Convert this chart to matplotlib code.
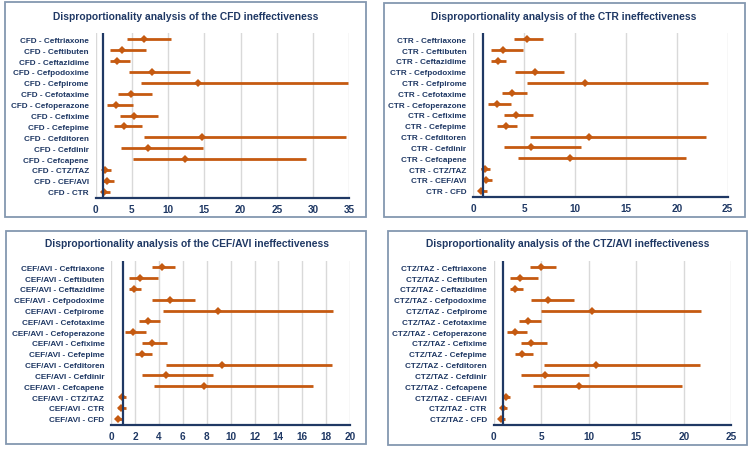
import matplotlib
matplotlib.use("Agg")
import matplotlib.pyplot as plt
from matplotlib.patches import Rectangle

plt.rcParams['font.family'] = ['Liberation Sans', 'DejaVu Sans']

drugs = ["Ceftriaxone", "Ceftibuten", "Ceftazidime", "Cefpodoxime", "Cefpirome",
         "Cefotaxime", "Cefoperazone", "Cefixime", "Cefepime", "Cefditoren",
         "Cefdinir", "Cefcapene"]

# Panel 1: CFD
cfd_labels = [f"CFD - {d}" for d in drugs] + ["CFD - CTZ/TAZ", "CFD - CEF/AVI", "CFD - CTR"]
cfd_ror = [6.67, 3.68, 2.99, 7.77, 14.17, 4.88, 2.85, 5.34, 3.96, 14.63, 7.22, 12.28, 1.29, 1.52, 1.20]
cfd_lo = [4.37, 2.02, 1.93, 4.65, 6.30, 3.08, 1.52, 3.36, 2.58, 6.67, 3.54, 5.20, 0.83, 1.06, 0.83]
cfd_hi = [10.35, 6.90, 4.74, 12.97, 34.8, 7.77, 5.20, 8.60, 6.35, 34.6, 14.8, 29.0, 2.16, 2.48, 2.02]

# Panel 2: CTR
ctr_labels = [f"CTR - {d}" for d in drugs] + ["CTR - CTZ/TAZ", "CTR - CEF/AVI", "CTR - CFD"]
ctr_ror = [5.24, 2.92, 2.39, 6.03, 10.94, 3.83, 2.29, 4.19, 3.18, 11.34, 5.64, 9.50, 1.11, 1.28, 0.79]
ctr_lo = [4.03, 1.77, 1.77, 4.10, 5.28, 2.85, 1.47, 3.05, 2.36, 5.60, 3.05, 4.36, 0.79, 0.92, 0.59]
ctr_hi = [6.81, 4.88, 3.18, 8.88, 23.03, 5.24, 3.67, 5.83, 4.29, 22.87, 10.55, 20.90, 1.60, 1.80, 1.31]

# Panel 3: CEF/AVI
cef_labels = [f"CEF/AVI - {d}" for d in drugs] + ["CEF/AVI - CTZ/TAZ", "CEF/AVI - CTR", "CEF/AVI - CFD"]
cef_ror = [4.27, 2.37, 1.93, 4.92, 8.97, 3.10, 1.84, 3.44, 2.54, 9.25, 4.58, 7.77, 0.87, 0.81, 0.59]
cef_lo = [3.38, 1.45, 1.51, 3.44, 4.30, 2.35, 1.17, 2.54, 1.96, 4.61, 2.54, 3.58, 0.67, 0.59, 0.42]
cef_hi = [5.36, 3.88, 2.51, 7.04, 18.6, 4.10, 2.93, 4.64, 3.38, 18.46, 8.49, 16.87, 1.26, 1.20, 0.95]

# Panel 4: CTZ/TAZ
ctz_labels = [f"CTZ/TAZ - {d}" for d in drugs] + ["CTZ/TAZ - CEF/AVI", "CTZ/TAZ - CTR", "CTZ/TAZ - CFD"]
ctz_ror = [4.94, 2.77, 2.28, 5.72, 10.38, 3.65, 2.21, 3.96, 2.98, 10.73, 5.40, 9.01, 1.26, 0.98, 0.77]
ctz_lo = [3.79, 1.72, 1.72, 3.89, 4.98, 2.70, 1.37, 2.91, 2.24, 5.33, 2.91, 4.14, 0.95, 0.77, 0.60]
ctz_hi = [6.56, 4.66, 3.09, 8.45, 21.81, 4.98, 3.51, 5.61, 4.10, 21.70, 10.03, 19.81, 1.72, 1.44, 1.19]

titles = ["Disproportionality analysis of the CFD ineffectiveness",
          "Disproportionality analysis of the CTR ineffectiveness",
          "Disproportionality analysis of the CEF/AVI ineffectiveness",
          "Disproportionality analysis of the CTZ/AVI ineffectiveness"]

W, H = 753, 452
NAVY = "#1F3864"
ORANGE = "#C55A11"
BORDER = "#8497B0"

fig = plt.figure(figsize=(W / 100, H / 100), dpi=100)
fig.patch.set_facecolor("white")

def fr(l, t, r, b):
    return [l / W, 1 - b / H, (r - l) / W, (b - t) / H]

panels = [
    dict(labels=cfd_labels, ror=cfd_ror, lo=cfd_lo, hi=cfd_hi, xmax=35, step=5,
         ax=(95.7, 34, 349.3, 199), box=(5, 3, 366, 218), title=titles[0], tpos=(185.5, 17)),
    dict(labels=ctr_labels, ror=ctr_ror, lo=ctr_lo, hi=ctr_hi, xmax=25, step=5,
         ax=(473.3, 34, 727.7, 198), box=(384, 4, 745, 218), title=titles[1], tpos=(564, 17)),
    dict(labels=cef_labels, ror=cef_ror, lo=cef_lo, hi=cef_hi, xmax=20, step=2,
         ax=(111.3, 262, 350, 426), box=(6, 232, 366, 445), title=titles[2], tpos=(186.7, 244)),
    dict(labels=ctz_labels, ror=ctz_ror, lo=ctz_lo, hi=ctz_hi, xmax=25, step=5,
         ax=(493.7, 262, 731.3, 426), box=(388, 232, 747, 446), title=titles[3], tpos=(567.7, 244)),
]

for p in panels:
    l, t, r, b = p["box"]
    fig.patches.append(Rectangle((l / W, 1 - b / H), (r - l) / W, (b - t) / H,
                                 transform=fig.transFigure, fill=False,
                                 edgecolor=BORDER, linewidth=1.3, zorder=0))
    fig.text(p["tpos"][0] / W, 1 - p["tpos"][1] / H, p["title"], ha="center", va="center",
             fontsize=7.4, fontweight="bold", color=NAVY)

    ax = fig.add_axes(fr(*p["ax"]))
    n = len(p["labels"])
    ys = list(range(n))
    for y, v, lo, hi in zip(ys, p["ror"], p["lo"], p["hi"]):
        ax.plot([lo, hi], [y, y], color=ORANGE, lw=2.0, solid_capstyle="butt", zorder=3)
    ax.plot(p["ror"], ys, linestyle="none", marker="D", markersize=4.4,
            color=ORANGE, markeredgewidth=0, zorder=4)
    ax.axvline(1, color=NAVY, lw=1.6, zorder=5)
    ax.set_xlim(0, p["xmax"])
    ax.set_ylim(n - 1 + 0.58, -0.58)
    ax.set_xticks(range(0, p["xmax"] + 1, p["step"]))
    ax.set_yticks(ys)
    ax.set_yticklabels(p["labels"])
    ax.grid(axis="x", color="#D9D9D9", lw=1.0, zorder=0)
    ax.set_axisbelow(True)
    for s in ["left", "top", "right"]:
        ax.spines[s].set_visible(False)
    ax.spines["bottom"].set_color(NAVY)
    ax.spines["bottom"].set_linewidth(1.6)
    ax.tick_params(axis="both", length=0, colors=NAVY)
    ax.tick_params(axis="y", pad=5, labelsize=5.9)
    ax.tick_params(axis="x", pad=4, labelsize=7.2)
    for lab in ax.get_xticklabels() + ax.get_yticklabels():
        lab.set_fontweight("bold")
        lab.set_color(NAVY)

fig.savefig("out.png", dpi=100, facecolor="white")
